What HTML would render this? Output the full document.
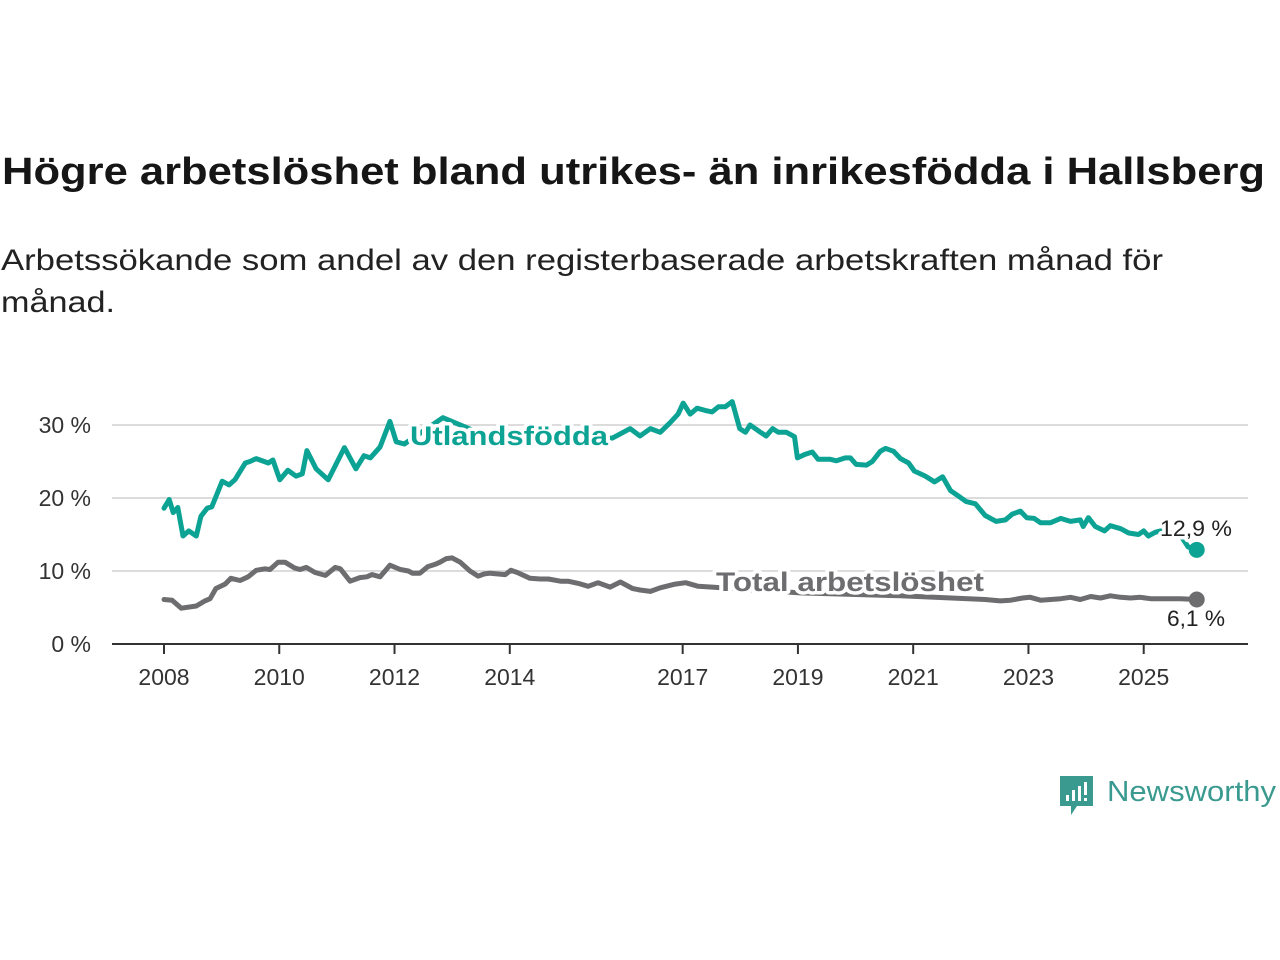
<!DOCTYPE html>
<html><head><meta charset="utf-8"><style>
body{margin:0;background:#fff;}
svg{display:block;font-family:"Liberation Sans",sans-serif;}
</style></head><body>
<svg width="1280" height="960" viewBox="0 0 1280 960" xmlns="http://www.w3.org/2000/svg">
<text x="2" y="184" font-size="38" font-weight="bold" fill="#161616" textLength="1263" lengthAdjust="spacingAndGlyphs">Högre arbetslöshet bland utrikes- än inrikesfödda i Hallsberg</text>
<text x="1" y="270" font-size="30" fill="#222" textLength="1162" lengthAdjust="spacingAndGlyphs">Arbetssökande som andel av den registerbaserade arbetskraften månad för</text>
<text x="1" y="312" font-size="30" fill="#222" textLength="114" lengthAdjust="spacingAndGlyphs">månad.</text>
<g id="grid"></g>
<g id="series"></g>
<g id="labels"></g>
<g>
<path d="M1060 776 h33 v30 h-16 l-6 9 v-9 h-11 z" fill="#3a9a8f"/>
<rect x="1066" y="795" width="3" height="6" fill="#fff"/><rect x="1072" y="790" width="3" height="11" fill="#fff"/><rect x="1078" y="786" width="3" height="15" fill="#fff"/><rect x="1084" y="782" width="3" height="13" fill="#fff"/><rect x="1084" y="798" width="3" height="3" fill="#fff"/>
<text x="1107" y="801" font-size="29" fill="#3a9a8f" textLength="169" lengthAdjust="spacingAndGlyphs">Newsworthy</text>
</g>
</svg>
<script>
const utlYears=[2008.00,2008.09,2008.16,2008.24,2008.33,2008.43,2008.56,2008.64,2008.75,2008.83,2009.01,2009.13,2009.23,2009.41,2009.49,2009.60,2009.81,2009.89,2010.01,2010.15,2010.29,2010.40,2010.48,2010.64,2010.85,2011.13,2011.33,2011.47,2011.58,2011.75,2011.92,2012.03,2012.17,2012.84,2013.6,2015.78,2015.92,2016.09,2016.26,2016.44,2016.61,2016.78,2016.92,2017.01,2017.13,2017.25,2017.39,2017.51,2017.62,2017.74,2017.86,2017.99,2018.09,2018.17,2018.35,2018.45,2018.56,2018.66,2018.80,2018.94,2018.99,2019.13,2019.25,2019.35,2019.56,2019.67,2019.82,2019.91,2020.01,2020.19,2020.29,2020.43,2020.52,2020.66,2020.78,2020.92,2021.02,2021.21,2021.37,2021.51,2021.65,2021.78,2021.92,2022.08,2022.25,2022.44,2022.60,2022.72,2022.86,2022.97,2023.10,2023.21,2023.38,2023.56,2023.73,2023.90,2023.95,2024.04,2024.16,2024.32,2024.42,2024.60,2024.74,2024.91,2025.00,2025.08,2025.20,2025.29,2025.63,2025.77,2025.92];
const utlValues=[18.6,19.8,18,18.7,14.8,15.5,14.8,17.5,18.6,18.8,22.3,21.8,22.5,24.8,25,25.4,24.8,25.2,22.5,23.8,23,23.3,26.5,24,22.5,26.9,24,25.8,25.5,27,30.5,27.7,27.4,31,28.5,28.2,28.8,29.5,28.5,29.5,29,30.3,31.5,33,31.5,32.3,32,31.8,32.5,32.5,33.2,29.5,29,30,29,28.5,29.5,29,29,28.4,25.5,26,26.3,25.3,25.3,25.1,25.5,25.5,24.6,24.5,25,26.4,26.8,26.4,25.4,24.8,23.7,23,22.2,22.9,21,20.3,19.5,19.2,17.6,16.8,17,17.8,18.2,17.3,17.2,16.6,16.6,17.2,16.8,17,16.1,17.3,16.1,15.5,16.2,15.8,15.2,15,15.5,14.8,15.3,15.5,15,13.3,12.9];
const totYears=[2008.00,2008.14,2008.30,2008.56,2008.71,2008.80,2008.90,2009.06,2009.16,2009.32,2009.46,2009.60,2009.75,2009.84,2009.98,2010.10,2010.27,2010.36,2010.47,2010.62,2010.80,2010.97,2011.06,2011.23,2011.40,2011.52,2011.61,2011.75,2011.92,2012.10,2012.24,2012.31,2012.44,2012.58,2012.70,2012.79,2012.90,2013.00,2013.14,2013.31,2013.45,2013.56,2013.66,2013.92,2014.02,2014.13,2014.35,2014.53,2014.67,2014.88,2015.01,2015.19,2015.36,2015.53,2015.74,2015.92,2016.13,2016.26,2016.44,2016.61,2016.87,2017.05,2017.27,2017.51,2019.04,2020.78,2022.25,2022.51,2022.69,2022.90,2023.03,2023.21,2023.56,2023.73,2023.90,2024.08,2024.25,2024.42,2024.60,2024.77,2024.94,2025.12,2025.38,2025.64,2025.92];
const totValues=[6.1,6,4.9,5.2,5.9,6.2,7.6,8.2,9,8.7,9.2,10.1,10.3,10.2,11.2,11.2,10.4,10.2,10.5,9.8,9.4,10.5,10.3,8.6,9.1,9.2,9.5,9.2,10.8,10.2,10,9.7,9.7,10.6,10.9,11.2,11.7,11.8,11.2,10,9.3,9.6,9.7,9.5,10.1,9.8,9,8.9,8.9,8.6,8.6,8.3,7.9,8.4,7.8,8.5,7.6,7.4,7.2,7.7,8.2,8.4,7.9,7.8,7.0,6.6,6.1,5.9,6.0,6.3,6.4,6.0,6.2,6.4,6.1,6.5,6.3,6.6,6.4,6.3,6.4,6.2,6.2,6.2,6.1];
const yTicks=[0,10,20,30];
const yTickLabels=["0 %","10 %","20 %","30 %"];
const xTicks=[2008,2010,2012,2014,2017,2019,2021,2023,2025];
const NS="http://www.w3.org/2000/svg";
const X=y=>164+(y-2008)*57.63;
const Y=v=>644-v*7.3;
function mk(tag,attrs,parent){const e=document.createElementNS(NS,tag);for(const k in attrs)e.setAttribute(k,attrs[k]);parent.appendChild(e);return e;}
const grid=document.getElementById('grid'),series=document.getElementById('series'),labels=document.getElementById('labels');
yTicks.forEach((t,i)=>{
 if(t>0){const l=mk('line',{x1:112,x2:1248,y1:Y(t),y2:Y(t),stroke:'#dcdcdc','stroke-width':2},grid);
 
 }
 const tx=mk('text',{x:91,y:Y(t)+8,'font-size':23,fill:'#333','text-anchor':'end'},grid);
 tx.textContent=yTickLabels[i];
 
 
});
const ax=mk('line',{x1:112,x2:1248,y1:644,y2:644,stroke:'#333','stroke-width':2},grid);


xTicks.forEach(t=>{
 const tk=mk('line',{x1:X(t),x2:X(t),y1:644,y2:654,stroke:'#333','stroke-width':2},grid);
 
 
 const tx=mk('text',{x:X(t),y:685,'font-size':23,fill:'#333','text-anchor':'middle'},grid);
 tx.textContent=String(t);
 
 
});
function line(yrs,vals,color,name){
 const d=yrs.map((y,i)=>(i?'L':'M')+X(y).toFixed(1)+' '+Y(vals[i]).toFixed(1)).join(' ');
 const p=mk('path',{d:d,fill:'none',stroke:color,'stroke-width':5,'stroke-linejoin':'round','stroke-linecap':'round'},series);
 
 
 const n=yrs.length-1;
 const c=mk('circle',{cx:X(yrs[n]),cy:Y(vals[n]),r:8,fill:color},series);
 
 
}
line(totYears,totValues,'#6d6d70','total-line');
line(utlYears,utlValues,'#0ca394','utlandsfodda-line');
function label(txt,x,y,size,color,bold,name,anchor,len){
 const a={x:x,y:y,'font-size':size,fill:color,stroke:'#fff','stroke-width':7,'stroke-linejoin':'round','paint-order':'stroke','text-anchor':anchor||'start'};
 if(bold)a['font-weight']='bold';
 if(len){a.textLength=len;a.lengthAdjust='spacingAndGlyphs';}
 const t=mk('text',a,labels);t.textContent=txt;
 
 
}
label('Utlandsfödda',410,445,27,'#0ca394',true,'utlandsfodda-label','start',198);
label('Total arbetslöshet',716,591,27,'#6d6d70',true,'total-label','start',268);
label('12,9 %',1160,536,22,'#222',false,'utlandsfodda-end-value','start',72);
label('6,1 %',1167,626,22,'#222',false,'total-end-value','start',58);
</script>
</body></html>
